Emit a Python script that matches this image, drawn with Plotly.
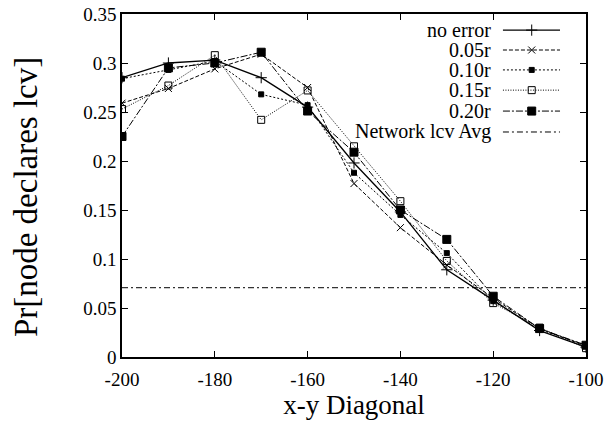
import plotly.graph_objects as go

x_diag = [-200, -190, -180, -170, -160, -150, -140, -130, -120, -110, -100]
no_error = [0.285, 0.300, 0.303, 0.285, 0.255, 0.198, 0.148, 0.089, 0.058, 0.027, 0.010]
r005 = [0.259, 0.274, 0.294, 0.309, 0.275, 0.177, 0.132, 0.094, 0.060, 0.029, 0.011]
r010 = [0.284, 0.293, 0.302, 0.268, 0.257, 0.188, 0.145, 0.106, 0.057, 0.028, 0.012]
r015 = [0.253, 0.277, 0.308, 0.242, 0.272, 0.215, 0.159, 0.098, 0.055, 0.030, 0.009]
r020 = [0.225, 0.295, 0.300, 0.311, 0.251, 0.209, 0.150, 0.120, 0.062, 0.029, 0.012]
network_avg = 0.0707

series_names = ["no error", "0.05r", "0.10r", "0.15r", "0.20r", "Network lcv Avg"]
x_ticks = [-200, -180, -160, -140, -120, -100]
x_tick_labels = ["-200", "-180", "-160", "-140", "-120", "-100"]
y_ticks = [0, 0.05, 0.1, 0.15, 0.2, 0.25, 0.3, 0.35]
y_tick_labels = ["0", "0.05", "0.1", "0.15", "0.2", "0.25", "0.3", "0.35"]

FONT = "Liberation Serif"
styles = [
    dict(dash="solid", symbol="cross-thin-open", size=8, width=1.3),
    dict(dash="4px,2px", symbol="x-thin-open", size=7, width=1),
    dict(dash="2px,2px", symbol="square", size=5, width=1),
    dict(dash="1px,1.5px", symbol="square-open", size=7, width=1),
    dict(dash="7px,2px,2px,2px", symbol="square", size=8, width=1),
    dict(dash="6px,3px,2px,3px", symbol=None, size=0, width=1),
]

fig = go.Figure()
data_series = [no_error, r005, r010, r015, r020]
for vals, st in zip(data_series, styles[:5]):
    fig.add_trace(go.Scatter(
        x=x_diag, y=vals, mode="lines+markers",
        line=dict(color="black", width=st["width"], dash=st["dash"]),
        marker=dict(symbol=st["symbol"], size=st["size"], color="black",
                    line=dict(color="black", width=1)),
        showlegend=False))
fig.add_trace(go.Scatter(
    x=[x_diag[0], x_diag[-1]], y=[network_avg, network_avg], mode="lines",
    line=dict(color="black", width=1, dash=styles[5]["dash"]), showlegend=False))

# manual gnuplot-style legend (text on the left, sample on the right)
row_y = [0.953, 0.895, 0.837, 0.778, 0.717, 0.656]
for name, st, yy in zip(series_names, styles, row_y):
    fig.add_trace(go.Scatter(
        x=[0.821, 0.944], y=[yy, yy], xaxis="x2", yaxis="y2", mode="lines",
        line=dict(color="black", width=st["width"], dash=st["dash"]),
        showlegend=False, hoverinfo="skip"))
    if st["symbol"]:
        fig.add_trace(go.Scatter(
            x=[0.883], y=[yy], xaxis="x2", yaxis="y2", mode="markers",
            marker=dict(symbol=st["symbol"], size=st["size"], color="black",
                        line=dict(color="black", width=1)),
            showlegend=False, hoverinfo="skip"))
    fig.add_annotation(x=0.799, y=yy, xref="paper", yref="paper", text=name,
                       showarrow=False, xanchor="right", yanchor="middle",
                       font=dict(family=FONT, size=20, color="black"))

# y-axis title (placed slightly below the plot centre, as in the reference)
fig.add_annotation(x=-0.207, y=0.466, xref="paper", yref="paper",
                   text="Pr[node declares lcv]", textangle=-90, showarrow=False,
                   xanchor="center", yanchor="middle",
                   font=dict(family=FONT, size=33, color="black"))

axis_common = dict(showgrid=False, zeroline=False, showline=True, linecolor="black",
                   linewidth=1.5, mirror="ticks", ticks="inside", ticklen=6,
                   tickcolor="black", tickwidth=1, automargin=False,
                   tickfont=dict(family=FONT, size=19, color="black"))
fig.update_layout(
    width=604, height=428,
    font=dict(family=FONT, color="black"),
    margin=dict(l=122, r=18, t=14, b=71),
    paper_bgcolor="white", plot_bgcolor="white",
    xaxis=dict(range=[-200, -100], tickvals=x_ticks, ticktext=x_tick_labels,
               ticklabelstandoff=4,
               title=dict(text="x-y Diagonal", font=dict(family=FONT, size=27, color="black"),
                          standoff=0),
               **axis_common),
    yaxis=dict(range=[0, 0.35], tickvals=y_ticks, ticktext=y_tick_labels,
               **axis_common),
    xaxis2=dict(range=[0, 1], overlaying="x", visible=False),
    yaxis2=dict(range=[0, 1], overlaying="y", visible=False),
)
fig.write_html("out.html", config={"displayModeBar": False},
               post_script="document.body.style.margin='0';document.body.style.overflow='hidden';")
